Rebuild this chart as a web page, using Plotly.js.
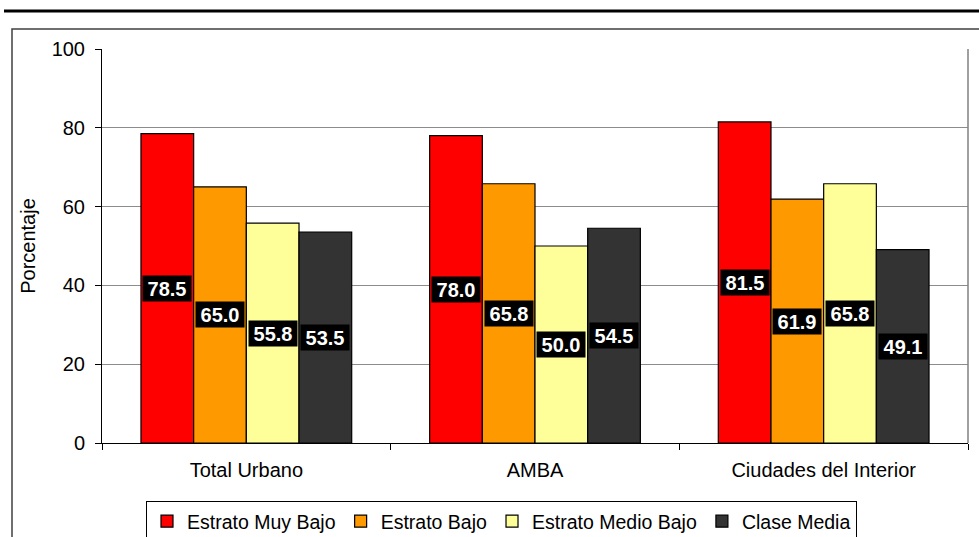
<!DOCTYPE html>
<html><head><meta charset="utf-8">
<script src="https://cdn.plot.ly/plotly-3.0.1.min.js"></script>
<style>html,body{margin:0;padding:0;background:#fff}#c{width:979px;height:537px}</style>
</head><body><div id="c"></div>
<script>
const categories = ["Total Urbano", "AMBA", "Ciudades del Interior"];
const seriesNames = ["Estrato Muy Bajo", "Estrato Bajo", "Estrato Medio Bajo", "Clase Media"];
const muyBajo = [78.5, 78.0, 81.5];
const bajo = [65.0, 65.8, 61.9];
const medioBajo = [55.8, 50.0, 65.8];
const claseMedia = [53.5, 54.5, 49.1];
const colors = ["#FF0000", "#FF9900", "#FFFF99", "#333333"];
const allSeries = [muyBajo, bajo, medioBajo, claseMedia];

const W = 979, H = 537;
const mL = 102, mR = 11, mT = 49, mB = 94;
const pw = W - mL - mR, ph = H - mT - mB;
const bargap = 0.27;
const catPx = pw / categories.length;
const barPx = catPx * (1 - bargap) / allSeries.length;
const FONT = "Liberation Sans, Arial, sans-serif";

const traces = allSeries.map((vals, j) => ({
  type: "bar", name: seriesNames[j], x: categories, y: vals,
  marker: {color: colors[j], line: {color: "#000", width: 1.2}},
  hoverinfo: "none"
}));

const annotations = [];
allSeries.forEach((vals, j) => {
  vals.forEach((v, i) => {
    annotations.push({
      x: categories[i], y: v / 2, xref: "x", yref: "y",
      xshift: (j - (allSeries.length - 1) / 2) * barPx,
      text: "<b>" + v.toFixed(1) + "</b>", showarrow: false,
      font: {family: FONT, size: 20, color: "#fff"},
      bgcolor: "#000", borderpad: 1, width: 46, height: 23
    });
  });
});

const px2x = p => (p - mL) / pw;
const px2y = p => 1 - (p - mT) / ph;

const shapes = [
  {type: "line", xref: "paper", yref: "paper", x0: px2x(4), x1: px2x(985), y0: px2y(11), y1: px2y(11), line: {color: "#000", width: 3}},
  {type: "rect", xref: "paper", yref: "paper", x0: px2x(12), x1: px2x(990), y0: px2y(29), y1: px2y(560), line: {color: "#404040", width: 1.5}},
  {type: "line", xref: "paper", yref: "paper", x0: 1, x1: 1, y0: 0, y1: 1, line: {color: "#808080", width: 1.5}}
];

const layout = {
  width: W, height: H,
  margin: {l: mL, r: mR, t: mT, b: mB},
  paper_bgcolor: "#fff", plot_bgcolor: "#fff",
  font: {family: FONT, size: 20, color: "#000"},
  barmode: "group", bargap: bargap, bargroupgap: 0,
  showlegend: true,
  legend: {
    orientation: "h", xref: "container", yref: "container",
    x: 146 / W, xanchor: "left", y: 1 - 501 / H, yanchor: "top",
    bordercolor: "#000", borderwidth: 1, bgcolor: "#fff",
    font: {family: FONT, size: 19.5}, itemwidth: 30, traceorder: "normal"
  },
  xaxis: {
    type: "category", showline: true, linecolor: "#000", linewidth: 1,
    ticks: "outside", tickson: "boundaries", ticklen: 6, tickcolor: "#000",
    showgrid: false, tickfont: {size: 20}, automargin: false, ticklabelstandoff: 9
  },
  yaxis: {
    range: [0, 100], dtick: 20, showline: true, linecolor: "#000", linewidth: 1,
    ticks: "outside", ticklen: 6, tickcolor: "#000",
    showgrid: true, gridcolor: "#8c8c8c", gridwidth: 1, zeroline: false,
    tickfont: {size: 20}, automargin: false, ticklabelstandoff: 6,
    title: {text: "Porcentaje", font: {size: 20}, standoff: 10}
  },
  shapes: shapes, annotations: annotations
};

Plotly.newPlot("c", traces, layout, {displayModeBar: false, staticPlot: true});
</script></body></html>
